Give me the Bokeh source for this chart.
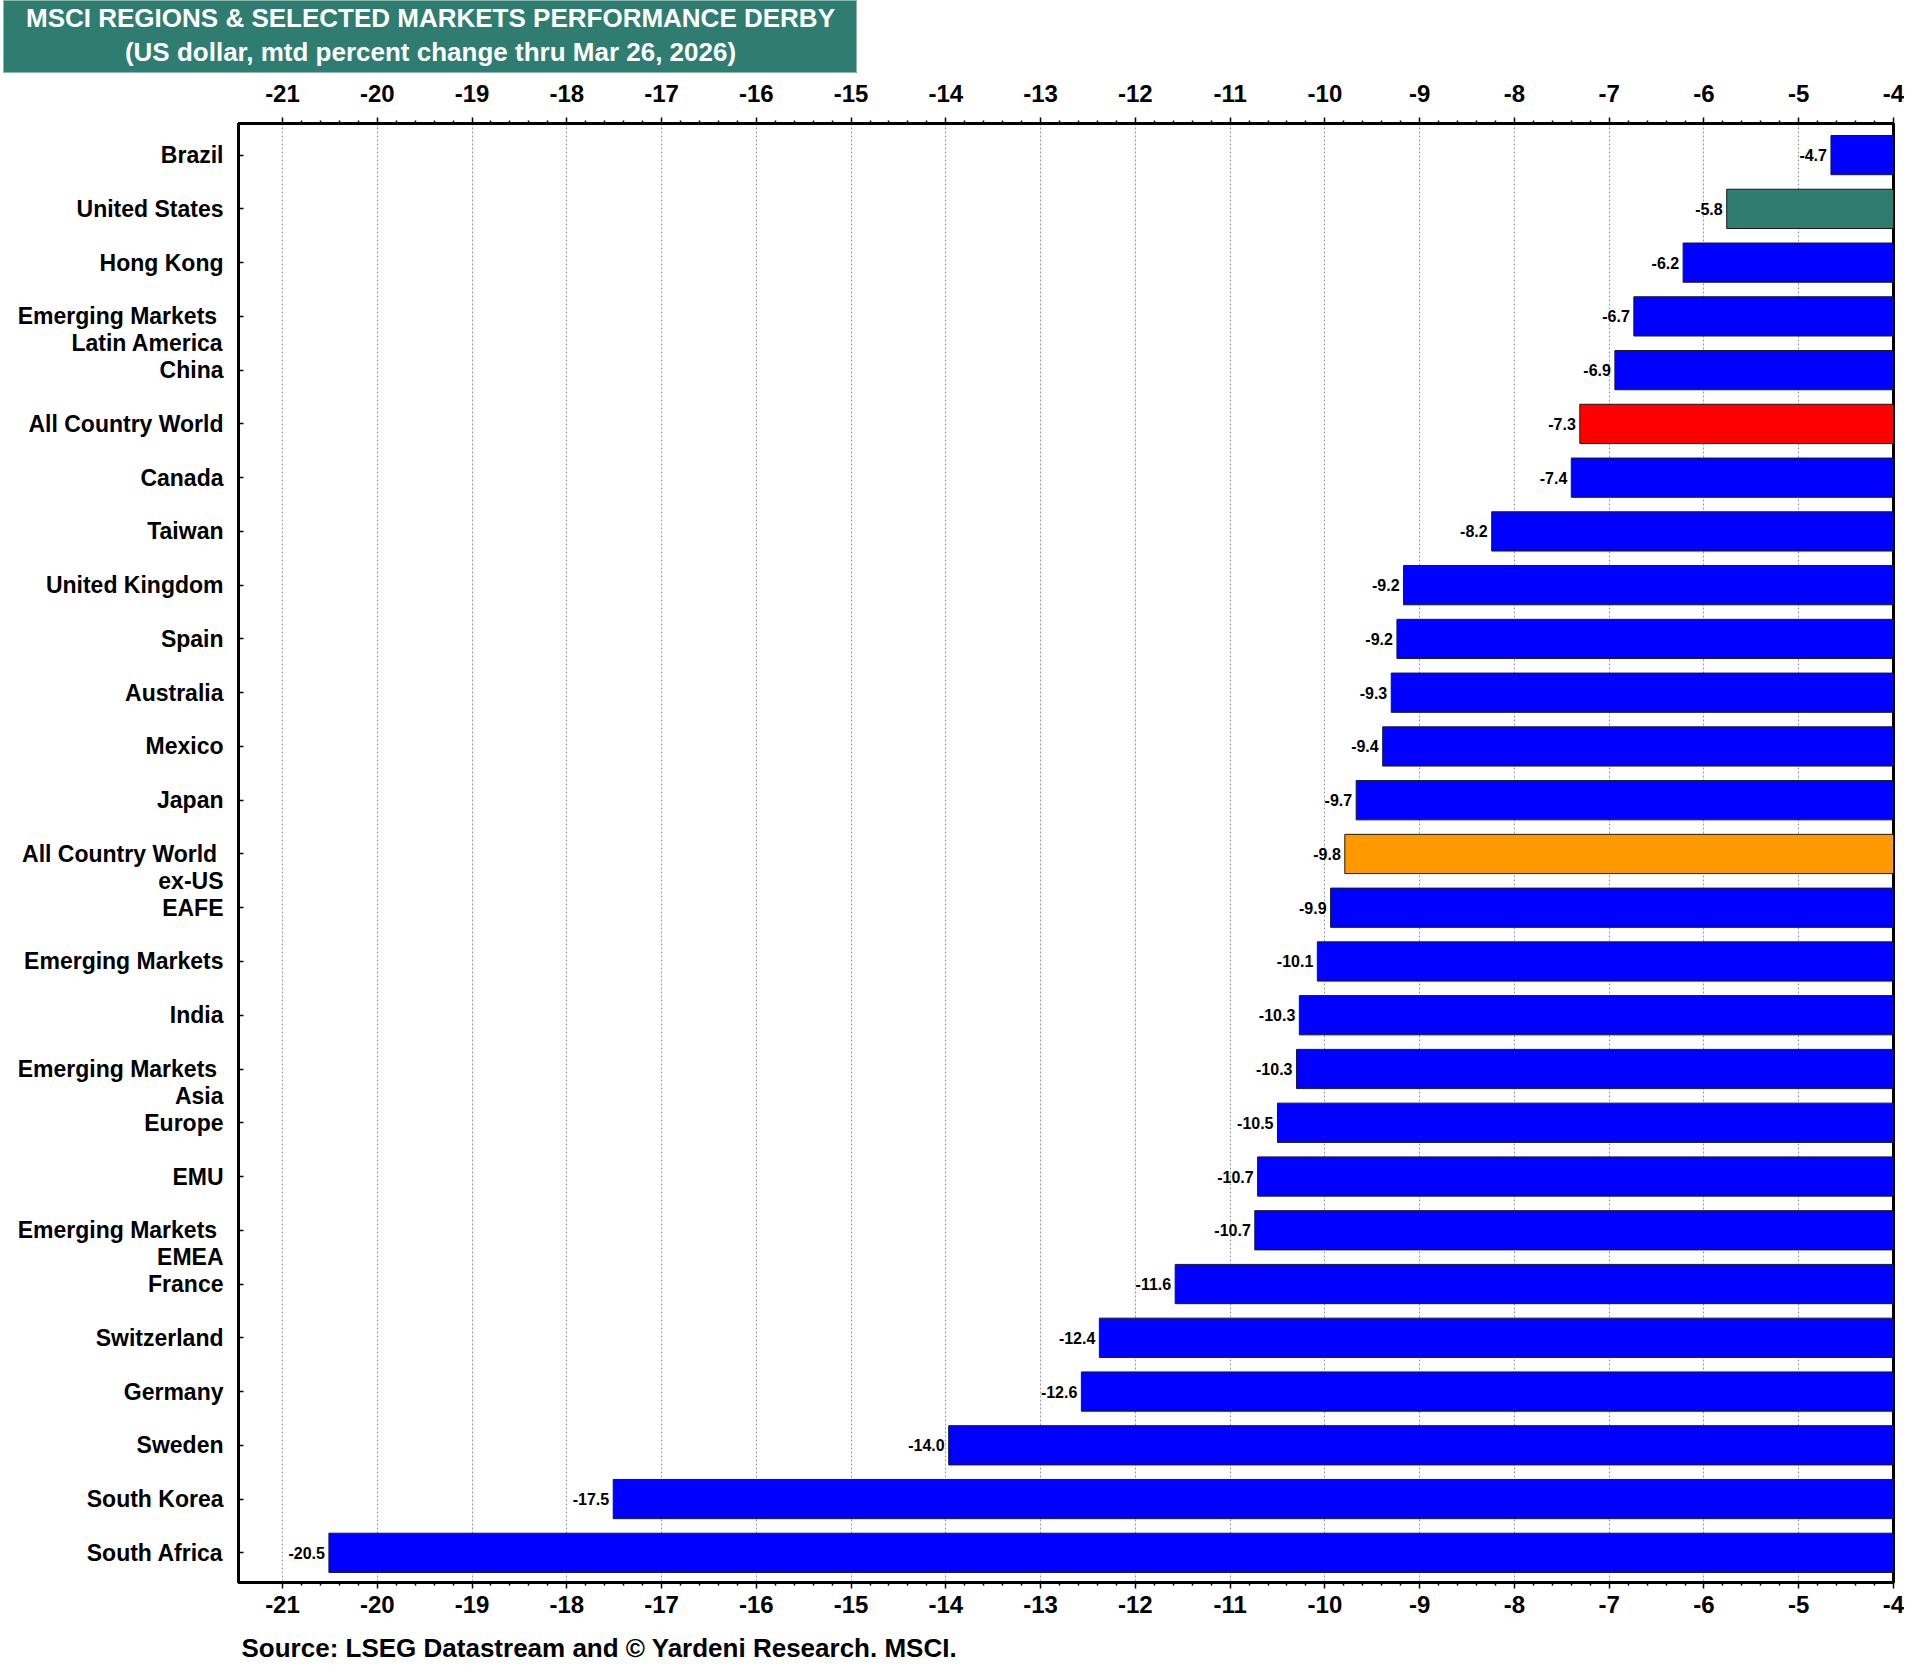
from bokeh.plotting import figure
from bokeh.layouts import column
from bokeh.models import Range1d, FixedTicker, LinearAxis, ColumnDataSource
from bokeh.core.properties import value
from bokeh.embed import file_html
from bokeh.resources import INLINE

# ---------------- data ----------------
categories = [
    "Brazil", "United States", "Hong Kong", "Emerging Markets\nLatin America", "China",
    "All Country World", "Canada", "Taiwan", "United Kingdom", "Spain", "Australia",
    "Mexico", "Japan", "All Country World\nex-US", "EAFE", "Emerging Markets", "India",
    "Emerging Markets\nAsia", "Europe", "EMU", "Emerging Markets\nEMEA", "France",
    "Switzerland", "Germany", "Sweden", "South Korea", "South Africa",
]
values = [
    -4.66, -5.76, -6.22, -6.74, -6.94,
    -7.31, -7.40, -8.24, -9.17, -9.24, -9.30,
    -9.39, -9.67, -9.79, -9.94, -10.08, -10.27,
    -10.30, -10.50, -10.71, -10.74, -11.58,
    -12.38, -12.57, -13.97, -17.51, -20.51,
]
highlight_colors = {
    "United States": "#2E7D70",
    "All Country World": "#FF0000",
    "All Country World\nex-US": "#FF9900",
}
default_color = "#0000FF"
x_ticks = list(range(-21, -3))
title_lines = [
    "MSCI REGIONS & SELECTED MARKETS PERFORMANCE DERBY",
    "(US dollar, mtd percent change thru Mar 26, 2026)",
]
source_text = "Source: LSEG Datastream and \u00a9 Yardeni Research. MSCI."

# ---------------- layout constants ----------------
FONT = "Liberation Sans"
TEAL = "#2E7D70"
W = 1904
TITLE_W, TITLE_H = 857, 73
FL, FW, FH = 238, 1655, 1459
MAIN_TOP, MAIN_BOT = 50, 42
SRC_H = 40
X0, X1 = -21.464, -4.0
YTOP, YBOT = -0.588, 26.552

# ---------------- title box ----------------
tf = figure(
    width=TITLE_W, height=TITLE_H,
    x_range=Range1d(0, TITLE_W - 3), y_range=Range1d(TITLE_H, 0),
    output_backend="svg", toolbar_location=None, tools="",
    x_axis_location=None, y_axis_location=None,
    min_border_left=3, min_border_right=0, min_border_top=0, min_border_bottom=0,
    background_fill_color=TEAL, border_fill_color="white",
    frame_align=False,
)
tf.outline_line_color = "#8CB8AE"
tf.outline_line_width = 1
tf.grid.visible = False
tf.text(x=[(TITLE_W - 3) / 2] * 2, y=[17.5, 51], text=title_lines,
        text_align="center", text_baseline="middle", text_color="white",
        text_font=value(FONT), text_font_style="bold", text_font_size="26px")

# ---------------- main chart ----------------
rows = list(range(len(categories)))
colors = [highlight_colors.get(c, default_color) for c in categories]
labels = [f"{v:.1f}" for v in values]
src = ColumnDataSource(dict(y=rows, v=values, color=colors, lbl=labels))

p = figure(
    width=W, height=MAIN_TOP + FH + MAIN_BOT,
    x_range=Range1d(X0, X1), y_range=Range1d(YBOT, YTOP),
    output_backend="svg", toolbar_location=None, tools="",
    min_border_left=FL, min_border_top=MAIN_TOP,
    min_border_right=W - FL - FW, min_border_bottom=MAIN_BOT,
    background_fill_color="white", border_fill_color="white",
    frame_align=False,
)
p.outline_line_color = "black"
p.outline_line_width = 3

p.hbar(y="y", left="v", right=0, height=0.73, fill_color="color",
       line_color="#1a1a1a", line_width=1, source=src)

p.text(x="v", y="y", text="lbl", x_offset=-4, text_align="right",
       text_baseline="middle", text_font=value(FONT), text_font_style="bold",
       text_font_size="16px", text_color="black", source=src)

minor = []
for a, b in zip(x_ticks[:-1], x_ticks[1:]):
    minor += [a + (b - a) * k / 5 for k in range(1, 5)]


def style_x_axis(ax, standoff):
    ax.ticker = FixedTicker(ticks=x_ticks, minor_ticks=minor)
    ax.major_label_overrides = {t: str(t) for t in x_ticks}
    ax.axis_line_width = 3
    ax.axis_line_color = "black"
    ax.major_tick_in = 0
    ax.major_tick_out = 6
    ax.major_tick_line_width = 1.5
    ax.minor_tick_in = 0
    ax.minor_tick_out = 3
    ax.minor_tick_line_width = 1.5
    ax.major_label_text_font = FONT
    ax.major_label_text_font_style = "bold"
    ax.major_label_text_font_size = "24px"
    ax.major_label_text_color = "black"
    ax.major_label_standoff = standoff


style_x_axis(p.xaxis[0], 7)
top_axis = LinearAxis()
style_x_axis(top_axis, 16)
p.add_layout(top_axis, "above")

p.xgrid.ticker = FixedTicker(ticks=x_ticks)
p.xgrid.grid_line_color = "#999999"
p.xgrid.grid_line_dash = "2 2"
p.xgrid.grid_line_width = 1
p.ygrid.visible = False

tick_pos = []
overrides = {}
for i, c in enumerate(categories):
    parts = c.split("\n")
    tick_pos.append(i)
    if len(parts) > 1:
        overrides[i] = parts[0] + "\u00a0"
        tick_pos.append(i + 0.5)
        overrides[i + 0.5] = parts[1]
    else:
        overrides[i] = parts[0]

ya = p.yaxis[0]
ya.ticker = FixedTicker(ticks=tick_pos, minor_ticks=rows)
ya.major_label_overrides = overrides
ya.axis_line_width = 3
ya.axis_line_color = "black"
ya.major_tick_line_color = None
ya.major_tick_in = 0
ya.major_tick_out = 0
ya.minor_tick_line_color = "black"
ya.minor_tick_line_width = 1.5
ya.minor_tick_in = 5
ya.minor_tick_out = 0
ya.major_label_standoff = 15
ya.major_label_text_font = FONT
ya.major_label_text_font_style = "bold"
ya.major_label_text_font_size = "23px"
ya.major_label_text_color = "black"

# ---------------- source line ----------------
sf = figure(
    width=W, height=SRC_H,
    x_range=Range1d(0, W), y_range=Range1d(SRC_H, 0),
    output_backend="svg", toolbar_location=None, tools="",
    x_axis_location=None, y_axis_location=None,
    min_border_left=0, min_border_right=0, min_border_top=0, min_border_bottom=0,
    background_fill_color="white", border_fill_color="white",
    frame_align=False,
)
sf.outline_line_color = None
sf.grid.visible = False
sf.text(x=[241], y=[23.5], text=[source_text], text_align="left",
        text_baseline="middle", text_color="black", text_font=value(FONT),
        text_font_style="bold", text_font_size="26px")

layout = column(tf, p, sf, spacing=0)
open("out.html", "w").write(file_html(layout, INLINE))
